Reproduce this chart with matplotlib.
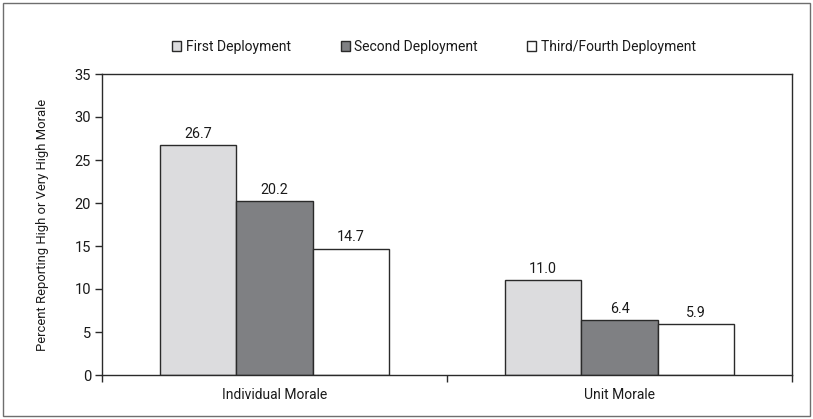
"""Morale by deployment count: grouped bar chart."""

import matplotlib
matplotlib.use("Agg")
import matplotlib.pyplot as plt
from matplotlib.patches import Rectangle, Patch
import numpy as np

plt.rcParams["font.family"] = ["Roboto", "DejaVu Sans"]

CATEGORIES = ["Individual Morale", "Unit Morale"]
SERIES = ["First Deployment", "Second Deployment", "Third/Fourth Deployment"]
VALUES = [
    [26.7, 11.0],  # first
    [20.2, 6.4],   # second
    [14.7, 5.9],   # third/fourth
]
COLORS = ["#dcdcde", "#7f8083", "#ffffff"]
EDGE = "#2a2a2a"
TEXT = "#1a1a1a"
FS = 10

fig = plt.figure(figsize=(8.13, 4.19), dpi=100)
ax = fig.add_axes([102 / 813, 44 / 419, 690 / 813, 301 / 419])

x = np.arange(len(CATEGORIES))
width = 0.222
for i, (name, vals, color) in enumerate(zip(SERIES, VALUES, COLORS)):
    pos = x + (i - 1) * width
    ax.bar(pos, vals, width=width, color=color, edgecolor=EDGE, linewidth=1.0, label=name)
    for p, v in zip(pos, vals):
        ax.annotate(f"{v:.1f}", (p, v), xytext=(0, 3), textcoords="offset points",
                    ha="center", va="bottom", fontsize=10.3, color=TEXT)

ax.set_xlim(-0.5, 1.5)
ax.set_ylim(0, 35)
ax.set_yticks(range(0, 36, 5))
ax.set_xticks(x)
ax.set_xticklabels(CATEGORIES)
ax.set_xticks([-0.5, 0.5, 1.5], minor=True)
ax.tick_params(axis="x", which="major", length=0, pad=9, labelsize=FS, colors=TEXT)
ax.tick_params(axis="x", which="minor", length=5, width=1.0, color=EDGE, direction="out")
ax.tick_params(axis="y", length=5, width=1.0, color=EDGE, direction="out",
               labelsize=10.5, labelcolor=TEXT, pad=3)
ax.set_ylabel("Percent Reporting High or Very High Morale", fontsize=9.4,
              color=TEXT, labelpad=18)
for s in ax.spines.values():
    s.set_color(EDGE)
    s.set_linewidth(1.0)

handles = [Patch(facecolor=c, edgecolor=EDGE, linewidth=1.0) for c in COLORS]
fig.legend(handles, SERIES, loc="center", bbox_to_anchor=(434 / 813, 1 - 47 / 419),
           ncol=3, frameon=False, fontsize=FS, handlelength=0.65, handleheight=0.65,
           handletextpad=0.3, columnspacing=3.6, labelcolor=TEXT)

# outer frame around the whole figure
fig.patches.append(Rectangle((3 / 813, 3 / 419), 807 / 813, 413 / 419,
                             transform=fig.transFigure, fill=False,
                             edgecolor="#6e6e6e", linewidth=1.0))

fig.savefig("out.png", dpi=100)
plt.close(fig)
